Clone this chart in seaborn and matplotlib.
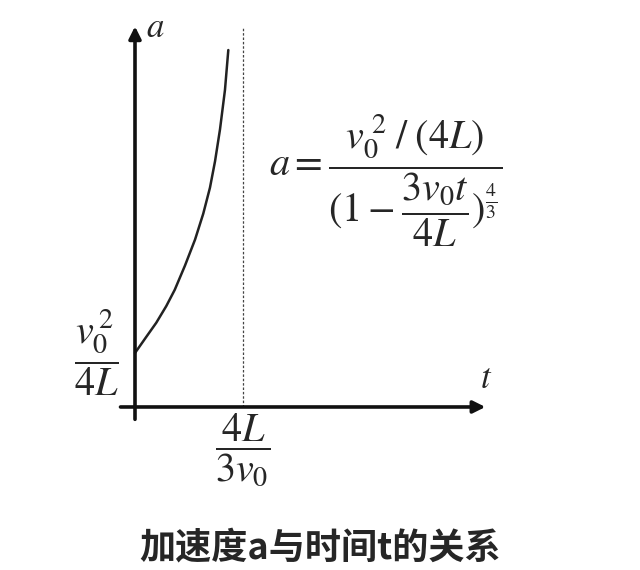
import matplotlib
matplotlib.use('Agg')
import matplotlib.pyplot as plt
import numpy as np
import pandas as pd
import seaborn as sns

# kurvan pisteet luettu kuvasta (t yksikkönä 4L/3v0, a yksikkönä v0^2/4L)
t_vals = [0.0, 0.105, 0.197, 0.290, 0.368, 0.463, 0.556, 0.632, 0.694, 0.741, 0.787, 0.833, 0.864]
a_vals = [1.0, 1.30, 1.56, 1.87, 2.17, 2.62, 3.10, 3.58, 4.06, 4.55, 5.14, 5.87, 6.61]
t_asymptote = 1.0
a_label = r'$\dfrac{v_0^{\,2}}{4L}$'
t_label = r'$\dfrac{4L}{3v_0}$'
formula = r'$a=\dfrac{v_0^{\;2}\;/\;(4L)}{(1-\dfrac{3v_0t}{4L})^{\frac{4}{3}}}$'
title = '加速度a与时间t的关系'

sns.set_theme(style='white')
plt.rcParams['font.family'] = ['Noto Sans CJK SC', 'DejaVu Sans']
plt.rcParams['mathtext.fontset'] = 'stix'

df = pd.DataFrame({'t': t_vals, 'a': a_vals})

fig = plt.figure(figsize=(6.4, 5.7), dpi=100)
ax = fig.add_axes([0, 0, 1, 1])
ax.set_xlim(-1.25, 4.676)
ax.set_ylim(-3.019, 7.537)
ax.axis('off')

# akselit nuolilla
ax.annotate('', xy=(0, 7.10), xytext=(0, -0.28),
            arrowprops=dict(arrowstyle='-|>', color='#111', lw=2.6, mutation_scale=18))
ax.annotate('', xy=(3.27, 0), xytext=(-0.16, 0),
            arrowprops=dict(arrowstyle='-|>', color='#111', lw=2.6, mutation_scale=18))

# asymptootti
ax.vlines(t_asymptote, 0, 7.02, colors='#444', linestyles=(0, (2, 1.5)), lw=0.9)

sns.lineplot(data=df, x='t', y='a', ax=ax, color='#222', lw=1.8, sort=False)
ax.set_xlabel('')
ax.set_ylabel('')

ax.text(0.1, 7.02, r'$a$', fontsize=25, ha='left', va='center')
ax.text(3.25, 0.52, r'$t$', fontsize=25, ha='center', va='center')
ax.text(-0.36, 1.0, a_label, fontsize=29, ha='center', va='center')
ax.text(t_asymptote, -0.8, t_label, fontsize=29, ha='center', va='center')
ax.text(2.32, 4.2, formula, fontsize=29, ha='center', va='center')

fig.text(0.5, 0.038, title, fontsize=26, fontweight='bold', ha='center', va='center')

fig.savefig('out.png', dpi=100)
